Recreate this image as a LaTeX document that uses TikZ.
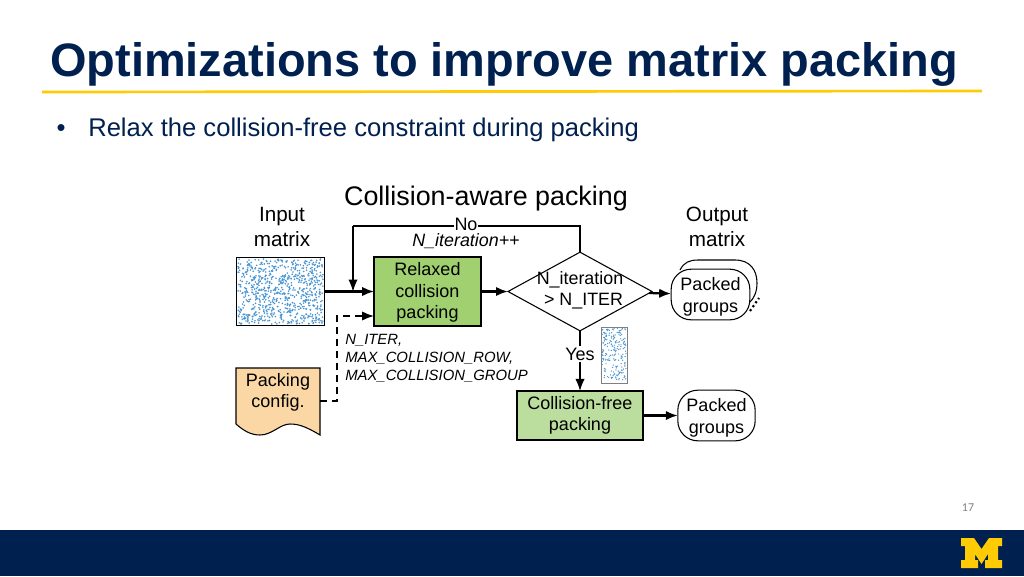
\documentclass[tikz,border=0pt]{standalone}
\usepackage{fontspec}
\setmainfont{Liberation Sans}
\newfontfamily\pagenumfont{Carlito}
\usetikzlibrary{arrows.meta,shapes.geometric}
\definecolor{navy}{HTML}{00204F}
\definecolor{maize}{HTML}{FFCB05}
\definecolor{relaxgreen}{HTML}{A0D070}
\definecolor{freegreen}{HTML}{BBDD9E}
\definecolor{configorange}{HTML}{FBD7A5}
\definecolor{dotblue}{HTML}{4A94D0}
\tikzset{
  flow/.style={line width=1.6pt,-{Latex[length=9pt,width=7pt]}},
  thinline/.style={line width=0.8pt},
  procbox/.style={draw=black,line width=1.6pt,outer sep=0pt,inner sep=0pt,align=center,font=\fontsize{13.5}{16}\selectfont},
  packed/.style={draw=black,line width=0.8pt,fill=white,rounded corners=15pt,outer sep=0pt,inner sep=0pt,align=center,text depth=0pt,font=\fontsize{13.5}{16.5}\selectfont},
  label/.style={align=center,inner sep=0pt,font=\fontsize{15.5}{18.5}\selectfont},
  param/.style={align=left,inner sep=0pt,anchor=west,font=\fontsize{11.15}{13.5}\selectfont\itshape},
}
\begin{document}
\begin{tikzpicture}[x=0.75pt,y=-0.75pt]
            \useasboundingbox (0,0) rectangle (1024,576);
            \fill[navy] (0,530) rectangle (1024,576);
            \fill[maize] (961,538)--(974,538)--(981.5,549)--(989,538)--(1002,538)--(1002,546)--(998,546)--(998,560)--(1002,560)--(1002,568)--(985,568)--(985,560)--(988,560)--(988,554)--(981.5,564)--(975,554)--(975,560)--(978,560)--(978,568)--(961,568)--(961,560)--(965,560)--(965,546)--(961,546)--cycle;
            \node (pagenum) at (968,507.5) [text=gray,inner sep=0pt,font=\pagenumfont\fontsize{9}{11}\selectfont] {17};
            \node (title) at (50,64) [anchor=west,inner sep=0pt,text=navy,font=\fontsize{35.2}{40}\selectfont\bfseries] {Optimizations to improve matrix packing};
            \draw[maize,line width=2pt] (42,92)--(982,91);
            \node (bullet) at (61,131) [inner sep=0pt,text=navy,font=\fontsize{19.2}{22}\selectfont] {•};
            \node (relax) at (88,130) [anchor=west,inner sep=0pt,text=navy,font=\fontsize{19.2}{22}\selectfont] {Relax the collision-free constraint during packing};
            \node (heading) at (486,198.5) [inner sep=0pt,font=\fontsize{20.15}{24}\selectfont] {Collision-aware packing};
            \node (inlabel) at (282,227) [label] {Input\\matrix};
            \node (outlabel) at (717,227) [label] {Output\\matrix};
            % the two sparse matrices
            \node (inmat) at (280.5,291.5) [draw=black,line width=1.2pt,minimum width=66pt,minimum height=51pt,outer sep=0pt] {};
            \pgfmathsetseed{17}
            \foreach \n in {1,...,800} {
              \fill[dotblue] ({238+85*rnd},{259+65*rnd}) circle (0.9);
            }
            \node (smallmat) at (614,355) [draw=gray,line width=0.6pt,minimum width=19.5pt,minimum height=42pt,outer sep=0pt] {};
            \foreach \n in {1,...,200} {
              \fill[dotblue] ({602+24*rnd},{328+54*rnd}) circle (0.7);
            }
            \node (relaxed) at (427.5,291.5) [procbox,fill=relaxgreen,minimum width=80pt,minimum height=51.5pt,text depth=1.5pt] {Relaxed\\collision\\packing};
            \node (check) at (580,291.5) [diamond,draw=black,line width=0.8pt,aspect=1.82,minimum width=108pt,minimum height=59pt,inner sep=0pt,outer sep=0pt] {};
            \node (checktext) at (580,290) [align=center,inner sep=0pt,font=\fontsize{13.4}{16}\selectfont] {N\_iteration\\\hspace{0.4em}> N\_ITER};
            % back copy of the packed groups
            \draw[thinline] (680,270) .. controls (684,262) and (690,260) .. (698,260)--(735,260) .. controls (750,260) and (757,270) .. (757,283) .. controls (757,292) and (754,298) .. (750,302);
            \node (outfront) at (710.5,294.5) [packed,minimum width=59pt,minimum height=38pt] {Packed\\groups};
            \draw[line width=1.6pt,dotted] (750,311)--(759,298);
            \node (free) at (580,415.5) [procbox,fill=freegreen,minimum width=94.5pt,minimum height=37pt] {Collision-free\\packing};
            \node (outfree) at (716.5,415.5) [packed,minimum width=58pt,minimum height=38pt] {Packed\\groups};
            \draw[thinline,fill=configorange] (236,368)--(320,368)--(320,435) .. controls (305,426) and (298,424) .. (290,424) .. controls (280,424) and (272,435) .. (260,435) .. controls (250,435) and (243,430) .. (236,424)--cycle;
            \node (config) at (278,390.5) [align=center,inner sep=0pt,text depth=0pt,font=\fontsize{13.5}{16}\selectfont] {Packing\\config.};
            \coordinate (configout) at (320,401);
            \coordinate (dashbend) at (337,401);
            \coordinate (dashtop) at (337,316);
            \coordinate (relaxin) at (relaxed.west |- dashtop);
            \coordinate (merge) at (353,291.5);
            \coordinate (loopright) at (check.north |- 0,226);
            \coordinate (loopleft) at (merge |- 0,226);
            \draw[flow] (inmat)--(relaxed);
            \draw[flow] (relaxed)--(check);
            \draw[flow] (check)--(outfront);
            \draw[flow] (free)--(outfree);
            \draw[thinline] (check.north)--(loopright)--(loopleft);
            \draw[thinline,-{Latex[length=9pt,width=7pt]}] (loopleft)--(merge);
            \draw[line width=1.5pt,dash pattern=on 5pt off 4pt,-{Latex[length=9pt,width=7pt]}] (configout)--(dashbend)--(dashtop)--(relaxin);
            \draw[thinline,-{Latex[length=9pt,width=7pt]}] (check.south)--(free.north);
            \node (no) at (466,224.5) [fill=white,inner sep=0.5pt,font=\fontsize{13.5}{16}\selectfont] {No};
            \node (incr) at (466,241.5) [inner sep=0pt,font=\fontsize{13.4}{15}\selectfont\itshape] {N\_iteration++};
            \node (yes) at (580,354) [fill=white,inner sep=1.5pt,font=\fontsize{13.5}{16}\selectfont] {Yes};
            \node (params) at (345,358) [param] {N\_ITER,\\MAX\_COLLISION\_ROW,\\MAX\_COLLISION\_GROUP};
        \end{tikzpicture}
\end{document}
